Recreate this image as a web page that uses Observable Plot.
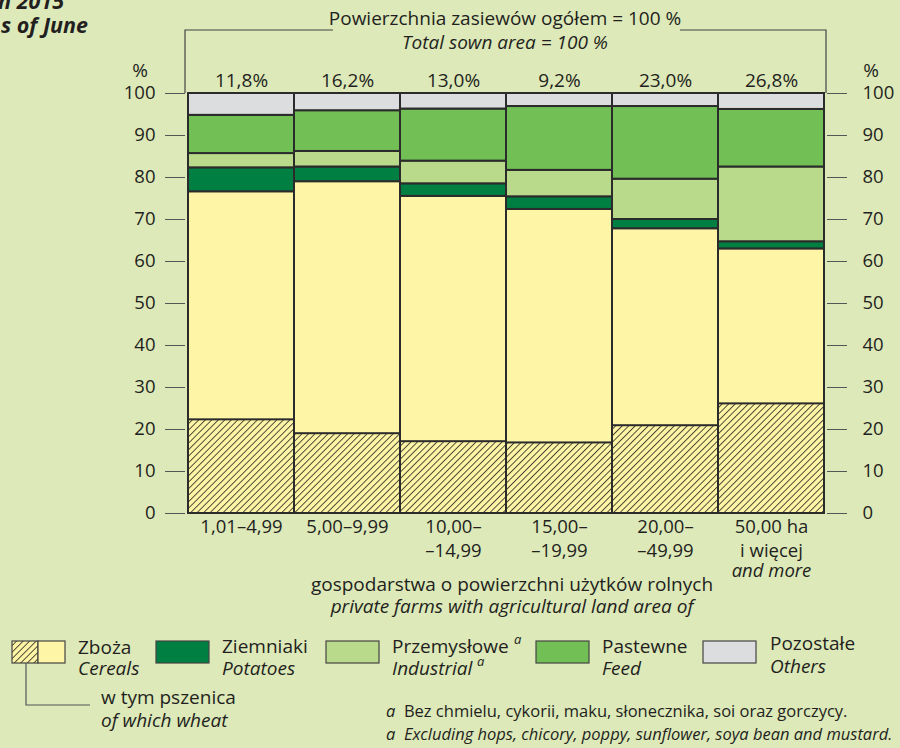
<!DOCTYPE html>
<html>
<head>
<meta charset="utf-8">
<script src="https://cdn.jsdelivr.net/npm/d3@7"></script>
<script src="https://cdn.jsdelivr.net/npm/@observablehq/plot@0.6"></script>
<style>
  html, body { margin: 0; padding: 0; background: #dde9b9; overflow: hidden; }
  #wrap { position: relative; width: 900px; height: 748px; overflow: hidden; background: #dde9b9;
          font-family: "Open Sans", sans-serif; color: #231f20; }
  .t { position: absolute; white-space: nowrap; font-size: 19px; line-height: 1; transform: translateY(-50%); }
  .c { transform: translate(-50%, -50%); }
  .r { transform: translate(-100%, -50%); }
  .i { font-style: italic; }
  .b { font-weight: 700; font-style: italic; font-size: 21.5px; }
  #chart { position: absolute; left: 0; top: 0; }
  #overlay { position: absolute; left: 0; top: 0; pointer-events: none; }
  .sup { font-size: 13px; font-style: italic; }
</style>
</head>
<body>
<div id="wrap">
  <div id="chart"></div>
  <svg id="overlay" width="900" height="748"></svg>
</div>
<script>
// ---- data ----
const groups = ["1,01–4,99", "5,00–9,99", "10,00–14,99", "15,00–19,99", "20,00–49,99", "50,00 ha i więcej"];
const groupLabels = ["1,01–4,99", "5,00–9,99", "10,00–\n–14,99", "15,00–\n–19,99", "20,00–\n–49,99", "50,00 ha\ni więcej"];
const shareOfTotal = ["11,8%", "16,2%", "13,0%", "9,2%", "23,0%", "26,8%"];
const wheat      = [22.3, 19.0, 17.1, 16.8, 20.9, 26.1];
const cereals    = [76.6, 79.0, 75.5, 72.4, 67.8, 63.0];
const potatoes   = [5.7, 3.5, 3.0, 3.0, 2.2, 1.7];
const industrial = [3.4, 3.7, 5.4, 6.3, 9.6, 17.8];
const feed       = [9.1, 9.7, 12.4, 15.2, 17.3, 13.7];
const others     = [5.2, 4.1, 3.7, 3.1, 3.1, 3.8];
const yTicks = [0, 10, 20, 30, 40, 50, 60, 70, 80, 90, 100];

// ---- styles ----
const COL = { cereals: "#fff5a6", potatoes: "#007f43", industrial: "#b8da8a", feed: "#71bf55", others: "#dcdddf" };
const EDGE = "#2b2b2b";

// stacked segments built from the values
const seriesOrder = [["cereals", cereals], ["potatoes", potatoes], ["industrial", industrial], ["feed", feed], ["others", others]];
const segs = [];
groups.forEach((g, i) => {
  let cum = 0;
  for (const [key, arr] of seriesOrder) {
    segs.push({ group: g, key, y1: cum, y2: cum + arr[i] });
    cum += arr[i];
  }
});
const wheatRows = groups.map((g, i) => ({ group: g, y1: 0, y2: wheat[i] }));
const barMark = (key) => Plot.barY(segs.filter(d => d.key === key), {
  x: "group", y1: "y1", y2: "y2", fill: COL[key], stroke: EDGE, strokeWidth: 2, inset: 0
});

const chart = Plot.plot({
  width: 900,
  height: 600,
  marginTop: 93,
  marginBottom: 87,
  marginLeft: 185,
  marginRight: 74,
  style: { background: "transparent", fontFamily: "'Open Sans', sans-serif", fontSize: "19px", color: "#231f20" },
  x: { domain: groups, paddingInner: 0, paddingOuter: 0, axis: null },
  y: { domain: [0, 100], axis: null },
  marks: [
    barMark("cereals"),
    Plot.barY(wheatRows, { x: "group", y1: "y1", y2: "y2", fill: "url(#hatch)", stroke: EDGE, strokeWidth: 2, inset: 0 }),
    barMark("potatoes"),
    barMark("industrial"),
    barMark("feed"),
    barMark("others"),
    Plot.axisY({ anchor: "left", ticks: yTicks, tickSize: 20, tickPadding: 10, stroke: "#555", fill: "#231f20", fontSize: 18.5, label: null }),
    Plot.axisY({ anchor: "right", ticks: yTicks, tickSize: 20, tickPadding: 16, stroke: "#555", fill: "#231f20", fontSize: 18.5, label: null }),
    Plot.text(groups, { x: d => d, text: (d, i) => groupLabels[i], frameAnchor: "bottom", lineAnchor: "top", dy: 2, lineHeight: 1.3, fontSize: 18.5, fill: "#231f20" }),
    Plot.text([groups[5]], { x: d => d, text: ["and more"], frameAnchor: "bottom", lineAnchor: "top", dy: 50, fontSize: 18.5, fontStyle: "italic", fill: "#231f20" }),
    Plot.text(groups, { x: d => d, text: (d, i) => shareOfTotal[i], frameAnchor: "top", lineAnchor: "bottom", dy: -7, fontSize: 19, fill: "#231f20" })
  ]
});

// hatch pattern for wheat
const ns = "http://www.w3.org/2000/svg";
const defs = document.createElementNS(ns, "defs");
defs.innerHTML = `<pattern id="hatch" patternUnits="userSpaceOnUse" width="4.6" height="4.6" patternTransform="rotate(45)">
  <rect width="4.6" height="4.6" fill="${COL.cereals}"/>
  <line x1="0.5" y1="0" x2="0.5" y2="4.6" stroke="#3a3a2a" stroke-width="0.9"/></pattern>`;
chart.insertBefore(defs, chart.firstChild);
document.getElementById("chart").appendChild(chart);

// ---- overlay: annotation lines, legend ----
const ov = document.getElementById("overlay");
ov.innerHTML = `
  <defs>
    <pattern id="hatch2" patternUnits="userSpaceOnUse" width="4.6" height="4.6" patternTransform="rotate(45)">
      <rect width="4.6" height="4.6" fill="${COL.cereals}"/>
      <line x1="0.5" y1="0" x2="0.5" y2="4.6" stroke="#3a3a2a" stroke-width="0.9"/></pattern>
  </defs>
  <polyline points="185,93 185,30 333,30" fill="none" stroke="#444" stroke-width="1.2"/>
  <polyline points="680,30 826,30 826,93" fill="none" stroke="#444" stroke-width="1.2"/>
  <rect x="12" y="641" width="26" height="22" fill="url(#hatch2)" stroke="#444" stroke-width="1.2"/>
  <rect x="38" y="641" width="27" height="22" fill="${COL.cereals}" stroke="#444" stroke-width="1.2"/>
  <polyline points="26,663 26,705 90,705" fill="none" stroke="#555" stroke-width="1.2"/>
  <rect x="156" y="641" width="53" height="22" fill="${COL.potatoes}" stroke="#444" stroke-width="1.2"/>
  <rect x="326" y="641" width="53" height="22" fill="${COL.industrial}" stroke="#444" stroke-width="1.2"/>
  <rect x="536" y="641" width="53" height="22" fill="${COL.feed}" stroke="#444" stroke-width="1.2"/>
  <rect x="703" y="641" width="53" height="22" fill="${COL.others}" stroke="#444" stroke-width="1.2"/>
`;

// ---- html text ----
const wrap = document.getElementById("wrap");
const texts = [
  ["t r b", 64, 1, "in 2015"],
  ["t r b", 88, 25, "As of June"],
  ["t c", 505, 18, "Powierzchnia zasiewów ogółem = 100 %"],
  ["t c i", 505, 42, "Total sown area = 100 %"],
  ["t c", 140, 70, "%"],
  ["t c", 871, 70, "%"],
  ["t c", 512, 584, "gospodarstwa o powierzchni użytków rolnych"],
  ["t c i", 512, 606, "private farms with agricultural land area of"],
  ["t", 78, 647, "Zboża"],
  ["t i", 78, 668, "Cereals"],
  ["t", 222, 646, "Ziemniaki"],
  ["t i", 222, 668, "Potatoes"],
  ["t", 392, 646, "Przemysłowe"],
  ["t sup", 514, 639, "a"],
  ["t i", 392, 668, "Industrial"],
  ["t sup", 477, 661, "a"],
  ["t", 602, 646, "Pastewne"],
  ["t i", 602, 668, "Feed"],
  ["t", 770, 643, "Pozostałe"],
  ["t i", 770, 666, "Others"],
  ["t", 101, 697, "w tym pszenica"],
  ["t i", 101, 720, "of which wheat"],
  ["t", 386, 711, "<i>a</i>&nbsp; Bez chmielu, cykorii, maku, słonecznika, soi oraz gorczycy.", 16.5],
  ["t i", 386, 734, "a&nbsp; Excluding hops, chicory, poppy, sunflower, soya bean and mustard.", 16.5]
];
for (const [cls, x, y, html, fs] of texts) {
  const d = document.createElement("div");
  d.className = cls;
  d.style.left = x + "px";
  d.style.top = y + "px";
  if (fs) d.style.fontSize = fs + "px";
  d.innerHTML = html;
  wrap.appendChild(d);
}
</script>
</body>
</html>
